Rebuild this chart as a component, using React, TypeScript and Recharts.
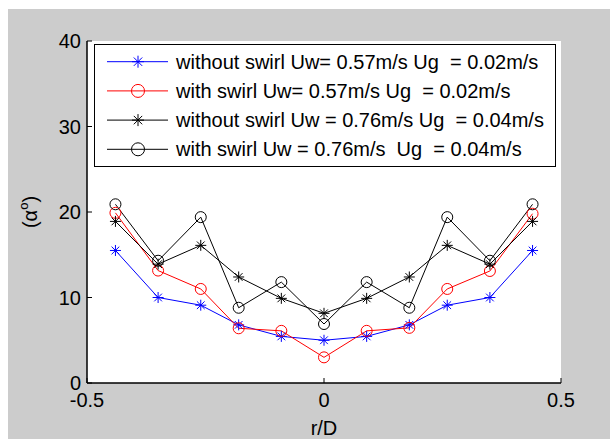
import React from 'react';
import { LineChart, Line, XAxis, YAxis, CartesianGrid, Legend } from 'recharts';

const rOverD = [-0.44, -0.35, -0.26, -0.18, -0.09, 0, 0.09, 0.18, 0.26, 0.35, 0.44];
const withoutSwirlLow = [15.5, 10.0, 9.1, 6.8, 5.45, 5.0, 5.45, 6.8, 9.1, 10.0, 15.5];
const withSwirlLow = [19.9, 13.15, 11.0, 6.4, 6.1, 3.0, 6.1, 6.45, 11.0, 13.1, 19.8];
const withoutSwirlHigh = [18.9, 13.9, 16.1, 12.4, 9.9, 8.15, 9.9, 12.4, 16.1, 13.9, 18.9];
const withSwirlHigh = [20.9, 14.3, 19.4, 8.8, 11.8, 6.9, 11.8, 8.8, 19.4, 14.3, 20.9];

const xTicks = [-0.5, 0, 0.5];
const yTicks = [0, 10, 20, 30, 40];

const seriesKeys = ['s0', 's1', 's2', 's3'];
const seriesNames = [
  'without swirl Uw= 0.57m/s Ug  = 0.02m/s',
  'with swirl Uw= 0.57m/s Ug  = 0.02m/s',
  'without swirl Uw = 0.76m/s Ug  = 0.04m/s',
  'with swirl Uw = 0.76m/s  Ug  = 0.04m/s',
];
const seriesColors = ['#0000ff', '#ff0000', '#000000', '#000000'];
const seriesMarkers = ['star', 'circle', 'star', 'circle'];
const seriesValues = [withoutSwirlLow, withSwirlLow, withoutSwirlHigh, withSwirlHigh];

const data = rOverD.map((x, i) => {
  const row: any = { x };
  seriesKeys.forEach((k, j) => {
    row[k] = seriesValues[j][i];
  });
  return row;
});

const FONT = '"Liberation Sans", Arial, Helvetica, sans-serif';

function Marker({ cx, cy, color, type, size }: any) {
  if (type === 'circle') {
    return <circle cx={cx} cy={cy} r={size} fill="none" stroke={color} strokeWidth={1} />;
  }
  const d = size;
  const e = size * 0.7;
  return (
    <g stroke={color} strokeWidth={1} fill="none">
      <line x1={cx - d} y1={cy} x2={cx + d} y2={cy} />
      <line x1={cx} y1={cy - d} x2={cx} y2={cy + d} />
      <line x1={cx - e} y1={cy - e} x2={cx + e} y2={cy + e} />
      <line x1={cx - e} y1={cy + e} x2={cx + e} y2={cy - e} />
    </g>
  );
}

const makeDot = (j: number) => (props: any) => {
  const { cx, cy, index } = props;
  if (cx == null || cy == null) return <g key={`d${j}-${index}`} />;
  return (
    <g key={`d${j}-${index}`}>
      <Marker cx={cx} cy={cy} color={seriesColors[j]} type={seriesMarkers[j]} size={seriesMarkers[j] === 'circle' ? 5.5 : 5.5} />
    </g>
  );
};

const renderLegend = () => (
  <svg width={463} height={124} style={{ display: 'block' }}>
    <rect x={0.5} y={0.5} width={461} height={122} fill="#fff" stroke="#000" strokeWidth={1} />
    {seriesNames.map((name, i) => {
      const cy = 17.7 + i * 29.2;
      return (
        <g key={i}>
          <line x1={13} x2={74} y1={cy} y2={cy} stroke={seriesColors[i]} strokeWidth={1} />
          <Marker cx={44} cy={cy} color={seriesColors[i]} type={seriesMarkers[i]} size={seriesMarkers[i] === 'circle' ? 6.5 : 6} />
          <text
            x={82}
            y={cy}
            dy="0.35em"
            fontSize={20}
            fontFamily={FONT}
            fill="#000"
            xmlSpace="preserve"
            style={{ whiteSpace: 'pre' }}
          >
            {name}
          </text>
        </g>
      );
    })}
  </svg>
);

const YLabel = (props: any) => {
  const vb = props.viewBox || { x: 0, y: 32, width: 79, height: 342 };
  const cx = vb.x + 29;
  const cy = vb.y + vb.height / 2;
  return (
    <text
      x={cx}
      y={cy}
      transform={`rotate(-90 ${cx} ${cy})`}
      textAnchor="middle"
      fontSize={20}
      fontFamily={FONT}
      fill="#000"
    >
      (α<tspan dy={-9} fontSize={13}>o</tspan>
      <tspan dy={9}>)</tspan>
    </text>
  );
};

const XLabel = (props: any) => {
  const vb = props.viewBox || { x: 79, y: 374, width: 474, height: 56 };
  return (
    <text x={vb.x + vb.width / 2} y={vb.y + 51.5} textAnchor="middle" fontSize={20} fontFamily={FONT} fill="#000">
      r/D
    </text>
  );
};

const tickStyle = { fill: '#000', fontSize: 20, fontFamily: FONT };

export default function App() {
  return (
    <div style={{ position: 'absolute', left: 8, top: 9, width: 602, height: 430, background: '#cccccc' }}>
      <LineChart width={602} height={430} data={data} margin={{ top: 32, right: 49, bottom: 0, left: 0 }}>
        <CartesianGrid fill="#ffffff" horizontal={false} vertical={false} stroke="none" />
        <XAxis
          dataKey="x"
          type="number"
          domain={[-0.5, 0.5]}
          ticks={xTicks}
          interval={0}
          height={56}
          tickSize={-5}
          tickMargin={15}
          axisLine={{ stroke: '#000', strokeWidth: 1.5 }}
          tickLine={{ stroke: '#000' }}
          tick={tickStyle}
          label={{ content: (p: any) => <XLabel {...p} /> }}
        />
        <XAxis
          xAxisId="top"
          dataKey="x"
          orientation="top"
          type="number"
          domain={[-0.5, 0.5]}
          ticks={xTicks}
          interval={0}
          height={0}
          tickSize={-5}
          tick={false}
          axisLine={{ stroke: '#000' }}
          tickLine={{ stroke: '#000' }}
        />
        <YAxis
          type="number"
          domain={[0, 40]}
          ticks={yTicks}
          interval={0}
          width={79}
          tickSize={-5}
          tickMargin={11}
          axisLine={{ stroke: '#000', strokeWidth: 1.5 }}
          tickLine={{ stroke: '#000' }}
          tick={tickStyle}
          label={{ content: (p: any) => <YLabel {...p} /> }}
        />
        <YAxis
          yAxisId="right"
          orientation="right"
          type="number"
          domain={[0, 40]}
          ticks={yTicks}
          interval={0}
          width={0}
          tickSize={-5}
          tick={false}
          axisLine={{ stroke: '#000' }}
          tickLine={{ stroke: '#000' }}
        />
        <Legend
          layout="horizontal"
          verticalAlign="middle"
          align="center"
          content={renderLegend}
          wrapperStyle={{ left: 86, top: 35, width: 463, height: 124 }}
        />
        {seriesKeys.map((k, j) => (
          <Line
            key={k}
            dataKey={k}
            name={seriesNames[j]}
            stroke={seriesColors[j]}
            strokeWidth={1}
            dot={makeDot(j)}
            activeDot={false}
            isAnimationActive={false}
          />
        ))}
      </LineChart>
    </div>
  );
}
